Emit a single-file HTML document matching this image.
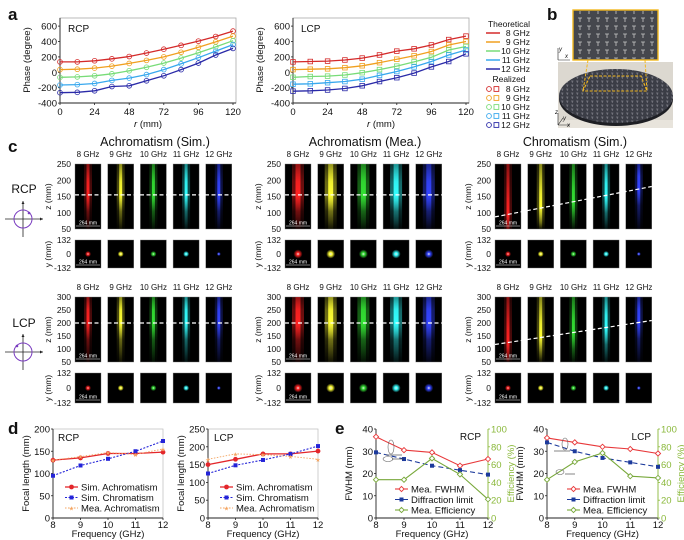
<!DOCTYPE html>
<html><head><meta charset="utf-8">
<style>
html,body{margin:0;padding:0;background:#fff;}
svg{display:block;font-family:"Liberation Sans",Arial,sans-serif;}
</style></head>
<body>
<svg id="fig" width="684" height="540" viewBox="0 0 684 540" xmlns="http://www.w3.org/2000/svg">
<defs>
<pattern id="atoms" x="0" y="0" width="9" height="8" patternUnits="userSpaceOnUse">
<path d="M2 2h4M4 2v4" stroke="#c8c8c8" stroke-width="0.8" fill="none"/>
</pattern>
<pattern id="atomsSmall" x="0" y="0" width="5" height="4" patternUnits="userSpaceOnUse">
<path d="M1 1h2.4M2.2 1v2" stroke="#9a9aa2" stroke-width="0.5" fill="none"/>
</pattern>
</defs>
</svg>
<script>
// ---------- DATA: panel a ----------
const rVals=[0,12,24,36,48,60,72,84,96,108,120];
const freqNames=['8 GHz','9 GHz','10 GHz','11 GHz','12 GHz'];
const rcp8=[135,135,150,175,205,250,300,350,405,465,535];
const rcp9=[35,40,55,80,115,155,200,260,325,395,470];
const rcp10=[-65,-60,-45,-20,20,65,120,185,255,330,410];
const rcp11=[-165,-160,-145,-105,-75,-30,35,110,190,275,360];
const rcp12=[-265,-260,-240,-185,-175,-110,-45,35,120,225,310];
const lcp8=[135,140,145,160,185,225,275,305,355,425,470];
const lcp9=[35,40,45,60,85,125,170,215,270,355,400];
const lcp10=[-65,-55,-50,-35,-5,35,80,135,195,290,335];
const lcp11=[-155,-150,-135,-120,-90,-40,10,70,140,225,290];
const lcp12=[-245,-240,-230,-210,-175,-120,-70,-10,70,140,240];
const phaseTicks=[-400,-200,0,200,400,600];
const rTicks=[0,24,48,72,96,120];
// ---------- DATA: panel d ----------
const freqs=[8,9,10,11,12];
const rcpSimAchro=[130,135,145,145,148];
const rcpSimChrom=[95,118,133,150,173];
const rcpMeaAchro=[130,138,147,143,155];
const lcpSimAchro=[150,165,180,180,188];
const lcpSimChrom=[125,148,163,180,202];
const lcpMeaAchro=[165,180,178,173,165];
const focTicksR=[0,50,100,150,200];
const focTicksL=[0,50,100,150,200,250];
// ---------- DATA: panel e ----------
const rcpFwhm=[36.5,30.5,29.5,23.5,26.5];
const rcpDiff=[29.5,26.5,23.5,21.5,19.5];
const rcpEff=[43,43,67,49,21];
const lcpFwhm=[36,34,32,31,29];
const lcpDiff=[34,30,27,25,23];
const lcpEff=[43,63,73,47,45];
const fwhmTicks=[0,10,20,30,40];
const effTicks=[0,20,40,60,80,100];
// ---------- DATA: panel c ----------
const achroFocusRCP=[155,155,155,155,155];
const achroFocusLCP=[200,200,200,200,200];
const zTicksRCP=[250,200,150,100,50];
const zTicksLCP=[300,250,200,150,100,50];
const yTicks=[132,0,-132];

const NS='http://www.w3.org/2000/svg';
const svg=document.getElementById('fig');
const defs=svg.querySelector('defs');
function mk(tag,a,p){const e=document.createElementNS(NS,tag);for(const k in a)e.setAttribute(k,a[k]);(p||svg).appendChild(e);return e;}
function tx(x,y,s,size,anchor,extra,p){const t=mk('text',Object.assign({x:x,y:y,'font-size':size,'text-anchor':anchor||'start',fill:'#111'},extra||{}),p);t.textContent=s;return t;}
const fcol=['#d42a2a','#f0a020','#78dc78','#38a8ee','#2a2aa8'];
let gid=0;

// ---------- panel letters ----------
[['a',8,20],['b',547,20],['c',8,152],['d',8,434],['e',335,434]].forEach(function(l){
  const t=tx(l[1],l[2],l[0],17,'start',{'font-weight':'bold'});
  
  
});

// ---------- panel a ----------
function phasePlot(x0,series,title,square){
  const g=mk('g',{});
  
  
  const xs=function(r){return x0+r/120*173;};
  const ys=function(v){return 72.3-v*0.077;};
  mk('rect',{x:x0,y:18,width:176,height:85,fill:'#fff',stroke:'#aaa','stroke-width':0.8},g);
  mk('line',{x1:x0,y1:18,x2:x0,y2:103,stroke:'#222','stroke-width':0.9},g);
  mk('line',{x1:x0,y1:103,x2:x0+176,y2:103,stroke:'#222','stroke-width':0.9},g);
  phaseTicks.forEach(function(v){
    mk('line',{x1:x0-2,y1:ys(v),x2:x0,y2:ys(v),stroke:'#222','stroke-width':0.8},g);
    tx(x0-3,ys(v)+3.5,String(v),9.5,'end',{},g);
  });
  rTicks.forEach(function(r){
    mk('line',{x1:xs(r),y1:103,x2:xs(r),y2:105,stroke:'#222','stroke-width':0.8},g);
    tx(xs(r),115,String(r),9.5,'middle',{},g);
  });
  const xt=tx(x0+88,127,'',9.5,'middle',{},g);
  const it=document.createElementNS(NS,'tspan');it.setAttribute('font-style','italic');it.textContent='r';xt.appendChild(it);
  xt.appendChild(document.createTextNode(' (mm)'));
  tx(x0-30,60,'Phase (degree)',9.5,'middle',{transform:'rotate(-90 '+(x0-30)+' 60)'},g);
  tx(x0+8,32,title,10,'start',{},g);
  series.forEach(function(vals,i){
    let d='';
    vals.forEach(function(v,k){d+=(k?'L':'M')+xs(rVals[k]).toFixed(1)+' '+ys(v).toFixed(1);});
    const p=mk('path',{d:d,fill:'none',stroke:fcol[i],'stroke-width':1.3},g);
    
    vals.forEach(function(v,k){
      if(square) mk('rect',{x:xs(rVals[k])-2.3,y:ys(v)-2.3,width:4.6,height:4.6,fill:'none',stroke:fcol[i],'stroke-width':0.8},g);
      else mk('circle',{cx:xs(rVals[k]),cy:ys(v),r:2.4,fill:'none',stroke:fcol[i],'stroke-width':0.8},g);
    });
  });
}
phasePlot(60,[rcp8,rcp9,rcp10,rcp11,rcp12],'RCP',false);
phasePlot(293,[lcp8,lcp9,lcp10,lcp11,lcp12],'LCP',true);

// legend a
const lg=mk('g',{});


tx(509,27,'Theoretical',8.5,'middle',{},lg);
tx(509,82,'Realized',8.5,'middle',{},lg);
freqNames.forEach(function(n,i){
  const y1=33+i*9;
  mk('line',{x1:486,y1:y1,x2:500,y2:y1,stroke:fcol[i],'stroke-width':1.5},lg);
  tx(530,y1+3,n,8.5,'end',{},lg);
  const y2=89+i*9;
  mk('circle',{cx:489,cy:y2,r:2.4,fill:'none',stroke:fcol[i],'stroke-width':0.9},lg);
  mk('rect',{x:494,y:y2-2.4,width:4.8,height:4.8,fill:'none',stroke:fcol[i],'stroke-width':0.9},lg);
  tx(530,y2+3,n,8.5,'end',{},lg);
});

// ---------- panel b photo ----------
const pb=mk('g',{});


mk('rect',{x:558,y:62,width:115,height:66,fill:'#dcd8d0'},pb);
mk('rect',{x:558,y:120,width:115,height:8,fill:'#e8e4dc'},pb);
mk('ellipse',{cx:616,cy:99,rx:57,ry:27,fill:'#1e1f24'},pb);
mk('ellipse',{cx:616,cy:96,rx:57,ry:27,fill:'#3b3d46'},pb);
mk('ellipse',{cx:616,cy:96,rx:57,ry:27,fill:'url(#atomsSmall)'},pb);
mk('path',{d:'M590 76 L641 76 L647 91 L583 91 Z',fill:'none',stroke:'#f2b820','stroke-width':1.1,'stroke-dasharray':'3 1.5'},pb);
mk('line',{x1:588,y1:60,x2:583,y2:91,stroke:'#f2b820','stroke-width':1,'stroke-dasharray':'3 1.5'},pb);
mk('line',{x1:645,y1:60,x2:647,y2:91,stroke:'#f2b820','stroke-width':1,'stroke-dasharray':'3 1.5'},pb);
mk('rect',{x:573,y:10,width:85,height:50,fill:'#45474d',stroke:'#f2b820','stroke-width':1.4},pb);
mk('rect',{x:574,y:11,width:83,height:48,fill:'url(#atoms)'},pb);
mk('path',{d:'M558 60 L558 48 M558 60 L570 60',stroke:'#222','stroke-width':0.6,fill:'none'},pb);
tx(559,51,'y',6,'start',{'font-style':'italic'},pb);tx(565,58,'x',6,'start',{'font-style':'italic'},pb);
mk('path',{d:'M558 125 L558 113 M558 125 L570 125 M558 125 L563 118',stroke:'#222','stroke-width':0.6,fill:'none'},pb);
tx(555,114,'z',6,'start',{'font-style':'italic'},pb);tx(563,120,'y',6,'start',{'font-style':'italic'},pb);tx(567,127,'x',6,'start',{'font-style':'italic'},pb);

// ---------- panel c ----------
const gx=[75,285,495];
const titles=['Achromatism (Sim.)','Achromatism (Mea.)','Chromatism (Sim.)'];
const beamCol=['#ff2222','#ffff33','#33e033','#33ffff','#3344ff'];
const rows=[{top:164,h:65,zmax:250,zmin:50,ticks:zTicksRCP,lab:157,ytop:240,yh:28,pol:'RCP',dash:155},
            {top:297,h:65,zmax:300,zmin:50,ticks:zTicksLCP,lab:290,ytop:373,yh:30,pol:'LCP',dash:200}];
function beam(x,top,h,col,fpos,wide,p){
  const id='bg'+(gid++);
  const lgd=mk('linearGradient',{id:id,x1:0,y1:0,x2:0,y2:1},defs);
  const f=Math.max(0.1,Math.min(0.9,fpos));
  [[0,0.45],[Math.max(0,f-0.2),0.9],[f,1],[Math.min(1,f+0.25),0.35],[1,0.05]].forEach(function(s){
    mk('stop',{offset:s[0],'stop-color':col,'stop-opacity':s[1]},lgd);
  });
  const cx=x+13;
  mk('rect',{x:cx-(wide?6:4),y:top,width:(wide?12:8),height:h,fill:'url(#'+id+')',opacity:wide?0.45:0.3},p);
  mk('rect',{x:cx-(wide?2.5:1.5),y:top,width:(wide?5:3),height:h,fill:'url(#'+id+')'},p);
}
function spot(x,top,h,col,r,p){
  const id='sp'+(gid++);
  const rg=mk('radialGradient',{id:id},defs);
  mk('stop',{offset:0,'stop-color':'#fff','stop-opacity':0.9},rg);
  mk('stop',{offset:0.35,'stop-color':col,'stop-opacity':1},rg);
  mk('stop',{offset:1,'stop-color':col,'stop-opacity':0},rg);
  mk('circle',{cx:x+13,cy:top+h/2,r:r,fill:'url(#'+id+')'},p);
}
function scaleBar(x,y,p){
  mk('line',{x1:x+1,y1:y,x2:x+25,y2:y,stroke:'#fff','stroke-width':0.6},p);
  tx(x+13,y-1.5,'264 mm',5,'middle',{fill:'#fff'},p);
}
gx.forEach(function(g0,gi){
  const grp=mk('g',{});
  
  
  tx(g0+80,146,titles[gi],12.5,'middle',{},grp);
  rows.forEach(function(rw,ri){
    const zpx=function(z){return rw.top+(rw.zmax-z)/(rw.zmax-rw.zmin)*rw.h;};
    const focus=gi<2?(ri?achroFocusLCP:achroFocusRCP):(ri?lcpSimChrom:rcpSimChrom);
    rw.ticks.forEach(function(t){tx(g0-4,zpx(t)+3,String(t),8.5,'end',{},grp);});
    tx(g0-24,rw.top+rw.h/2,'z (mm)',8.5,'middle',{transform:'rotate(-90 '+(g0-24)+' '+(rw.top+rw.h/2)+')'},grp);
    const ymid=rw.ytop+rw.yh/2;
    yTicks.forEach(function(t,k){tx(g0-4,rw.ytop+k*rw.yh/2+3,String(t),8.5,'end',{},grp);});
    tx(g0-24,ymid,'y (mm)',8.5,'middle',{transform:'rotate(-90 '+(g0-24)+' '+ymid+')'},grp);
    for(let i=0;i<5;i++){
      const x=g0+i*32.7;
      tx(x+13,rw.lab,freqNames[i],8,'middle',{},grp);
      const r1=mk('rect',{x:x,y:rw.top,width:26,height:rw.h,fill:'#000',stroke:'#777','stroke-width':0.4},grp);
      
      beam(x,rw.top,rw.h,beamCol[i],(zpx(focus[i])-rw.top)/rw.h,gi===1,grp);
      const r2=mk('rect',{x:x,y:rw.ytop,width:26,height:rw.yh,fill:'#000',stroke:'#777','stroke-width':0.4},grp);
      
      spot(x,rw.ytop,rw.yh,beamCol[i],gi===1?4.5:(i===4?2:3),grp);
    }
    scaleBar(g0,rw.top+rw.h-3,grp);
    scaleBar(g0,rw.ytop+rw.yh-3,grp);
    const xa=g0, xb=g0+4*32.7+26;
    const c0=g0+13, c4=g0+4*32.7+13;
    const slope=(zpx(focus[4])-zpx(focus[0]))/(c4-c0);
    const ya=zpx(focus[0])+slope*(xa-c0), yb=zpx(focus[0])+slope*(xb-c0);
    const dl=mk('line',{x1:xa,y1:ya,x2:xb,y2:yb,stroke:'#fff','stroke-width':1.2,'stroke-dasharray':'4 2.5'},grp);
    
  });
});
rows.forEach(function(rw,ri){
  const g=mk('g',{});
  
  
  const cy=ri?352:219;
  tx(24,ri?327:193,rw.pol,12,'middle',{},g);
  mk('line',{x1:5,y1:cy,x2:43,y2:cy,stroke:'#222','stroke-width':0.8},g);
  mk('line',{x1:23,y1:cy+18,x2:23,y2:cy-18,stroke:'#222','stroke-width':0.8},g);
  mk('path',{d:'M43 '+cy+' l-3 -1.5 v3 z M23 '+(cy-18)+' l-1.5 3 h3 z',fill:'#222'},g);
  mk('circle',{cx:23,cy:cy,r:9,fill:'none',stroke:'#7a3cc0','stroke-width':1},g);
  mk('circle',{cx:ri?17:29,cy:cy-6,r:1.3,fill:'#7a3cc0'},g);
});

// ---------- panels d / e ----------
function chart(o){
  const g=mk('g',{});
  
  
  const yT=429,yB=518;
  const xs=function(f){return o.x0+(f-8)/4*(o.x1-o.x0);};
  const ys=function(v){return yB-v/o.ymax*(yB-yT);};
  const ys2=function(v){return yB-v/100*(yB-yT);};
  if(o.frame) mk('rect',{x:o.x0,y:yT,width:o.x1-o.x0,height:yB-yT,fill:'none',stroke:'#bbb','stroke-width':0.7},g);
  mk('line',{x1:o.x0,y1:yT,x2:o.x0,y2:yB,stroke:'#222','stroke-width':0.9},g);
  mk('line',{x1:o.x0,y1:yB,x2:o.x1,y2:yB,stroke:'#222','stroke-width':0.9},g);
  o.ticks.forEach(function(v){
    mk('line',{x1:o.x0-2,y1:ys(v),x2:o.x0,y2:ys(v),stroke:'#222','stroke-width':0.8},g);
    tx(o.x0-3,ys(v)+3.5,String(v),9.5,'end',{},g);
  });
  freqs.forEach(function(f){
    mk('line',{x1:xs(f),y1:yB,x2:xs(f),y2:yB+2,stroke:'#222','stroke-width':0.8},g);
    tx(xs(f),yB+10,String(f),9.5,'middle',{},g);
  });
  tx((o.x0+o.x1)/2,537,'Frequency (GHz)',9.5,'middle',{},g);
  const ylx=o.x0-24,yly=(yT+yB)/2;
  tx(ylx,yly,o.ylab,9.5,'middle',{transform:'rotate(-90 '+ylx+' '+yly+')'},g);
  if(o.right){
    mk('line',{x1:o.x1,y1:yT,x2:o.x1,y2:yB,stroke:'#8ab83a','stroke-width':0.9},g);
    effTicks.forEach(function(v){
      mk('line',{x1:o.x1,y1:ys2(v),x2:o.x1+2,y2:ys2(v),stroke:'#8ab83a','stroke-width':0.8},g);
      tx(o.x1+3,ys2(v)+3.5,String(v),9.5,'start',{fill:'#8ab83a'},g);
    });
    const rx=o.x1+26;
    tx(rx,yly,'Efficiency (%)',9.5,'middle',{fill:'#8ab83a',transform:'rotate(-90 '+rx+' '+yly+')'},g);
  }
  tx(o.titleX,o.titleY,o.title,10,o.titleAnchor,{},g);
  o.series.forEach(function(s,si){
    const sy=s.right?ys2:ys;
    let d='';
    s.vals.forEach(function(v,k){d+=(k?'L':'M')+xs(freqs[k]).toFixed(1)+' '+sy(v).toFixed(1);});
    const p=mk('path',{d:d,fill:'none',stroke:s.color,'stroke-width':s.w||1.1,'stroke-dasharray':s.dash||'none'},g);
    
    s.vals.forEach(function(v,k){marker(s.marker,xs(freqs[k]),sy(v),s.color,g);});
    const ly=o.legY+si*10.5;
    mk('line',{x1:o.legX,y1:ly,x2:o.legX+13,y2:ly,stroke:s.color,'stroke-width':s.w||1.1,'stroke-dasharray':s.dash||'none'},g);
    marker(s.marker,o.legX+6.5,ly,s.color,g);
    tx(o.legX+16,ly+3.5,s.label,9.5,'start',{},g);
  });
  (o.ann||[]).forEach(function(a){
    mk('ellipse',{cx:a[0],cy:a[1],rx:a[2],ry:a[3],fill:'none',stroke:'#666','stroke-width':0.6},g);
    mk('line',{x1:a[4],y1:a[5],x2:a[6],y2:a[7],stroke:'#333','stroke-width':0.6},g);
  });
}
function marker(m,x,y,c,g){
  if(m==='circle') mk('circle',{cx:x,cy:y,r:2.4,fill:c},g);
  else if(m==='square') mk('rect',{x:x-2,y:y-2,width:4,height:4,fill:c},g);
  else if(m==='star') tx(x,y+2.5,'\u2605',6,'middle',{fill:c},g);
  else if(m==='diamond') mk('path',{d:'M'+x+' '+(y-2.6)+'l2.6 2.6l-2.6 2.6l-2.6 -2.6z',fill:'#fff',stroke:c,'stroke-width':0.9},g);
}
chart({name:'focal-length-rcp',x0:53,x1:163,ymax:200,ticks:focTicksR,frame:true,ylab:'Focal length (mm)',title:'RCP',titleX:58,titleY:441,titleAnchor:'start',legX:65,legY:487,
  series:[{key:'sim-achromatism',vals:rcpSimAchro,color:'#e3262b',marker:'circle',label:'Sim. Achromatism',w:1.3},
          {key:'sim-chromatism',vals:rcpSimChrom,color:'#2424d8',marker:'square',dash:'2 1.5',label:'Sim. Chromatism'},
          {key:'mea-achromatism',vals:rcpMeaAchro,color:'#f4a460',marker:'star',dash:'1.5 1.5',label:'Mea. Achromatism',w:0.9}]});
chart({name:'focal-length-lcp',x0:208,x1:318,ymax:250,ticks:focTicksL,frame:true,ylab:'Focal length (mm)',title:'LCP',titleX:214,titleY:441,titleAnchor:'start',legX:220,legY:487,
  series:[{key:'sim-achromatism',vals:lcpSimAchro,color:'#e3262b',marker:'circle',label:'Sim. Achromatism',w:1.3},
          {key:'sim-chromatism',vals:lcpSimChrom,color:'#2424d8',marker:'square',dash:'2 1.5',label:'Sim. Chromatism'},
          {key:'mea-achromatism',vals:lcpMeaAchro,color:'#f4a460',marker:'star',dash:'1.5 1.5',label:'Mea. Achromatism',w:0.9}]});
chart({name:'fwhm-efficiency-rcp',x0:376,x1:488,ymax:40,ticks:fwhmTicks,right:true,ylab:'FWHM (mm)',title:'RCP',titleX:481,titleY:440,titleAnchor:'end',legX:395,legY:489,
  ann:[[391,447,3,7,386,455,402,455],[388,459,5,2.5,392,459,404,459]],
  series:[{key:'mea-fwhm',vals:rcpFwhm,color:'#e8383a',marker:'diamond',label:'Mea. FWHM'},
          {key:'diffraction-limit',vals:rcpDiff,color:'#1c3a9c',marker:'square',dash:'5 3',label:'Diffraction limit'},
          {key:'mea-efficiency',vals:rcpEff,color:'#78a83a',marker:'diamond',right:true,label:'Mea. Efficiency'}]});
chart({name:'fwhm-efficiency-lcp',x0:547,x1:658,ymax:40,ticks:fwhmTicks,right:true,ylab:'FWHM (mm)',title:'LCP',titleX:651,titleY:440,titleAnchor:'end',legX:567,legY:489,
  ann:[[565,444,3,6,554,451,570,451],[560,472,4,2.5,565,474,575,474]],
  series:[{key:'mea-fwhm',vals:lcpFwhm,color:'#e8383a',marker:'diamond',label:'Mea. FWHM'},
          {key:'diffraction-limit',vals:lcpDiff,color:'#1c3a9c',marker:'square',dash:'5 3',label:'Diffraction limit'},
          {key:'mea-efficiency',vals:lcpEff,color:'#78a83a',marker:'diamond',right:true,label:'Mea. Efficiency'}]});
</script>
</body></html>
